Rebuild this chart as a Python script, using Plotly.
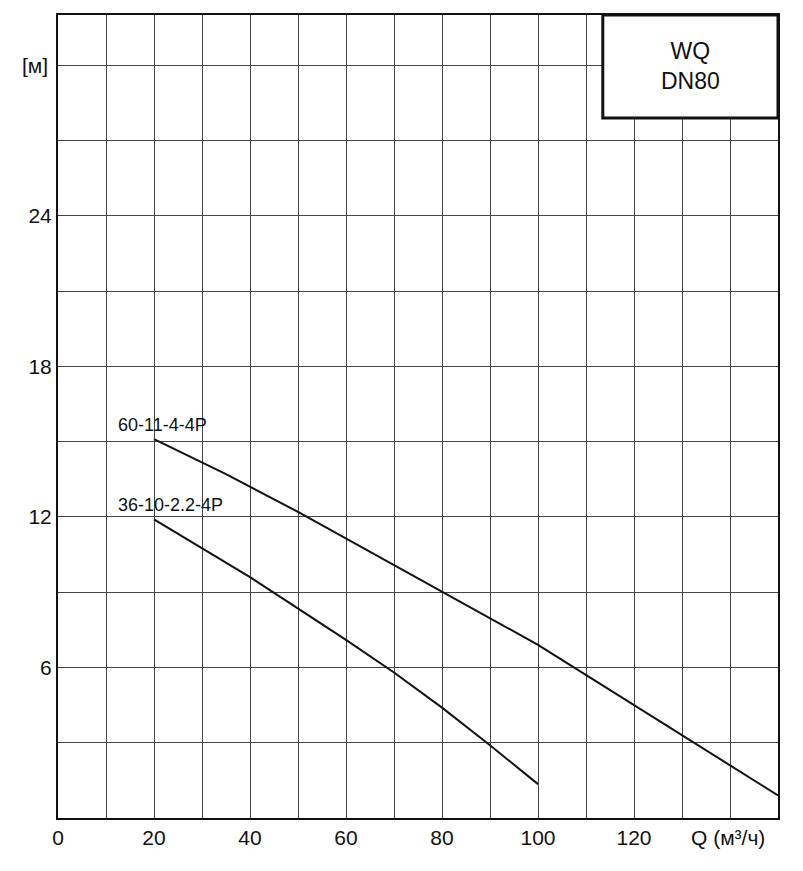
import plotly.graph_objects as go

q1 = [20, 35, 50, 65, 80, 100, 125, 150]
h1 = [15.1, 13.7, 12.2, 10.6, 9.0, 6.9, 3.9, 0.9]
q2 = [20, 40, 60, 70, 80, 90, 100]
h2 = [11.9, 9.6, 7.1, 5.8, 4.4, 2.9, 1.35]
names = ["60-11-4-4P", "36-10-2.2-4P"]
xticks = [0, 20, 40, 60, 80, 100, 120]
yticks = [6, 12, 18, 24]

fig = go.Figure()
for q, h in [(q1, h1), (q2, h2)]:
    fig.add_trace(go.Scatter(x=q, y=h, mode="lines", line=dict(color="#111", width=2), showlegend=False))
for q, h, n in [(q1, h1, names[0]), (q2, h2, names[1])]:
    fig.add_annotation(x=q[0], y=h[0], text=n, showarrow=False, xanchor="left", yanchor="bottom",
                       xshift=-38, yshift=2, font=dict(size=18, color="#111"))

yv = list(range(0, 33, 3))
yt = [str(v) if v in yticks else "" for v in yv]
fig.update_xaxes(range=[0, 150], tickvals=list(range(0, 151, 10)),
                 ticktext=[str(v) if v in xticks else "" for v in range(0, 151, 10)],
                 showgrid=True, gridcolor="#444", gridwidth=1, showline=True, linecolor="#111",
                 linewidth=2, mirror=True, ticks="", zeroline=False, tickfont=dict(size=21, color="#111"))
fig.update_yaxes(range=[0, 32], tickvals=yv, ticktext=yt, showgrid=True, gridcolor="#444", gridwidth=1,
                 showline=True, linecolor="#111", linewidth=2, mirror=True, ticks="", zeroline=False,
                 tickfont=dict(size=21, color="#111"))
fig.add_annotation(x=131.5, y=0, text="Q (м³/ч)", showarrow=False, yanchor="top", xanchor="left", yshift=-6,
                   font=dict(size=21, color="#111"))
fig.add_annotation(x=0, y=30, xref="x", text="[м]", showarrow=False, xanchor="right", xshift=-8,
                   font=dict(size=21, color="#111"))
fig.add_annotation(x=0, y=32.2, xref="x", text="H", showarrow=False, xanchor="right", xshift=-18, yanchor="top",
                   font=dict(size=21, color="#111"))
fig.add_shape(type="rect", xref="x", yref="y", x0=113.5, x1=150, y0=27.9, y1=32,
              fillcolor="white", line=dict(color="#111", width=3))
fig.add_annotation(x=131.7, y=29.95, text="WQ<br>DN80", showarrow=False, font=dict(size=23, color="#111"))
fig.update_layout(width=803, height=871, margin=dict(l=50, r=33, t=5, b=61),
                  plot_bgcolor="white", paper_bgcolor="white",
                  font=dict(family="Liberation Sans, Arial", color="#111"))
fig.write_html("out.html")
